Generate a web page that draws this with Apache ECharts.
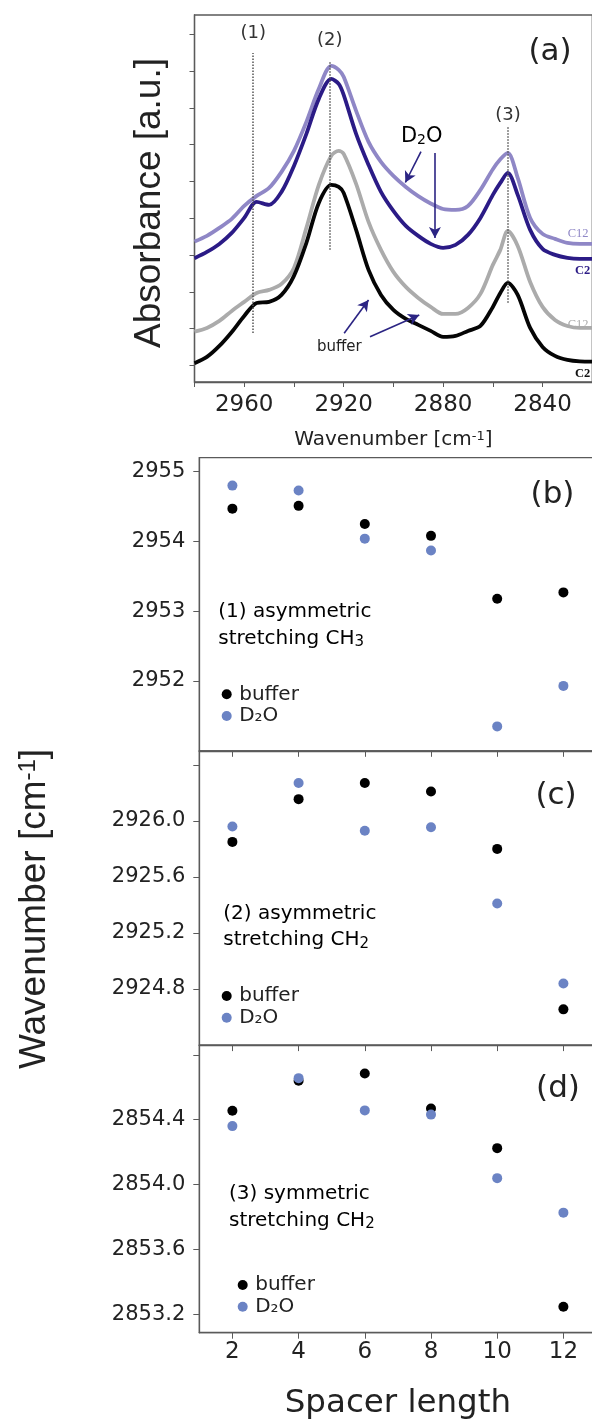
<!DOCTYPE html>
<html><head><meta charset="utf-8">
<script src="https://cdn.jsdelivr.net/npm/echarts@6/dist/echarts.min.js"></script>
<style>html,body{margin:0;padding:0;background:#fff}#c{width:592px;height:1423px}</style>
</head><body><div id="c"></div><script>
// ---------- panel (a): FTIR spectra ----------
const wavenumbers = [2980,2975,2970,2965,2960,2955,2950,2945,2940,2935,2930,2925,2922,2920,2915,2910,2905,2900,2895,2890,2885,2880,2875,2870,2865,2860,2857,2854,2850,2845,2840,2835,2830,2825,2820];
const absC12D2O   = [3.364,3.519,3.736,3.981,4.334,4.606,4.823,5.258,5.829,6.617,7.514,8.139,8.030,7.840,6.916,6.073,5.530,5.150,4.850,4.600,4.400,4.250,4.226,4.334,4.769,5.330,5.600,5.774,5.095,4.008,3.573,3.438,3.329,3.302,3.302];
const absC2D2O    = [2.913,3.084,3.302,3.601,4.008,4.443,4.361,4.715,5.421,6.291,7.242,7.785,7.649,7.351,6.291,5.448,4.715,4.198,3.791,3.519,3.302,3.193,3.274,3.546,4.008,4.633,4.959,5.231,4.633,3.682,3.166,3.003,2.921,2.894,2.894];
const absC12Buffer= [0.918,1.019,1.209,1.481,1.726,1.970,2.052,2.215,2.649,3.736,4.905,5.693,5.829,5.747,4.932,3.899,3.139,2.541,2.133,1.834,1.590,1.399,1.399,1.563,1.943,2.731,3.139,3.655,3.247,2.269,1.590,1.236,1.073,1.019,1.019];
const absC2Buffer = [0.060,0.231,0.530,0.910,1.345,1.698,1.726,1.916,2.432,3.329,4.416,4.905,4.850,4.688,3.682,2.595,1.916,1.508,1.264,1.101,0.938,0.774,0.802,0.938,1.073,1.590,1.970,2.242,1.916,1.019,0.503,0.258,0.149,0.109,0.103];
const specTicks = [2840,2860,2880,2900,2920,2940,2960,2980];
const specTickLabels = [2840,2880,2920,2960];
const absTicks = [0,1,2,3,4,5,6,7,8,9];
const peakLabels = ['(1)','(2)','(3)'];
const peakWavenumbers = [2956.4,2925.6,2853.9];
const peakLineBottom = [0.88,3.14,1.70];
const peakLineTop = [8.49,8.25,6.48];
const peakLabelGap = [11,12,3];
const arrowFromW = [2888.9,2883.3,2919.8,2909.4];
const arrowFromA = [5.81,5.77,0.875,0.78];
const arrowToW   = [2895.2,2883.3,2910.0,2889.6];
const arrowToA   = [4.97,3.46,1.78,1.37];

// ---------- panels (b)-(d): peak positions vs spacer length ----------
const spacerLength = [2,4,6,8,10,12];
const ch3AsymBuffer = [2954.47,2954.51,2954.25,2954.08,2953.18,2953.27];
const ch3AsymD2O    = [2954.80,2954.73,2954.04,2953.87,2951.35,2951.93];
const ch2AsymBuffer = [2925.85,2926.155,2926.27,2926.21,2925.80,2924.655];
const ch2AsymD2O    = [2925.96,2926.27,2925.93,2925.955,2925.41,2924.84];
const ch2SymBuffer  = [2854.455,2854.64,2854.685,2854.468,2854.224,2853.245];
const ch2SymD2O     = [2854.36,2854.656,2854.457,2854.431,2854.039,2853.826];
const bTickLabels = [2952,2953,2954,2955];
const bMinorTicks = [2951.5,2952.5,2953.5,2954.5];
const cTickLabels = [2924.8,2925.2,2925.6,2926.0];
const cMajorTicks = [2924.8,2925.2,2925.6,2926.0,2926.4];
const cMinorTicks = [2924.6,2925.0,2925.4,2925.8,2926.2];
const dTickLabels = [2853.2,2853.6,2854.0,2854.4];
const dMajorTicks = [2853.2,2853.6,2854.0,2854.4,2854.8];
const dMinorTicks = [2853.4,2853.8,2854.2,2854.6];

const H_FONT = '"DejaVu Sans", sans-serif';
const R_FONT = '"Liberation Sans", Arial, sans-serif';
const TEXT = '#222';
const FRAME = '#5a5a5a';
const BLACK = '#000000';
const BLUE = '#6b83c4';

const pairs = (xs, ys) => xs.map((x, i) => [x, ys[i]]);

const grids = [
  {left:194.5, top:15, width:397.8, height:367},
  {left:199.3, top:457.7, width:397.2, height:293.1},
  {left:199.3, top:750.8, width:397.2, height:294.3},
  {left:199.3, top:1045.1, width:397.2, height:287.6}
].map(g => Object.assign({show:true, borderColor:FRAME, borderWidth:1.3, backgroundColor:'transparent', containLabel:false, outerBoundsMode:'none'}, g));

const axLine = {show:true, onZero:false, lineStyle:{color:FRAME, width:1.3}};
const plain = v => String(Math.round(v));

const xAxes = [
  {gridIndex:0, type:'value', min:2820, max:2980, inverse:true, axisLine:axLine,
   axisTick:{show:true, customValues:specTicks, length:5, lineStyle:{color:FRAME}},
   axisLabel:{show:true, customValues:specTickLabels, margin:12, fontSize:23, fontFamily:H_FONT, color:TEXT, formatter:plain},
   splitLine:{show:false},
   name:'{n|Wavenumber [cm}{s|-1}{n|]}', nameLocation:'middle', nameGap:48, nameMoveOverlap:false,
   nameTextStyle:{rich:{n:{fontSize:20, fontFamily:H_FONT, color:TEXT}, s:{fontSize:13, fontFamily:H_FONT, color:TEXT, verticalAlign:'top'}}}}
];
for (let k = 1; k <= 3; k++) {
  const last = k === 3;
  xAxes.push({gridIndex:k, type:'value', min:1, max:13, axisLine:axLine,
    axisTick:{show:true, customValues:spacerLength, length:6, lineStyle:{color:FRAME}},
    axisLabel:{show:last, customValues:spacerLength, margin:8, fontSize:23, fontFamily:H_FONT, color:TEXT, formatter:plain},
    splitLine:{show:false},
    name: last ? 'Spacer length' : '', nameLocation:'middle', nameGap:54, nameMoveOverlap:false,
    nameTextStyle:{fontSize:32.5, fontFamily:H_FONT, color:TEXT}});
}

function majorY(k, min, max, ticks, labels, digits, extra) {
  return Object.assign({gridIndex:k, type:'value', min:min, max:max, axisLine:axLine,
    axisTick:{show:true, customValues:ticks, length:6, lineStyle:{color:FRAME}},
    axisLabel:{show:true, customValues:labels, margin:14, fontSize:21, fontFamily:H_FONT, color:TEXT,
      formatter: v => v.toFixed(digits)},
    splitLine:{show:false}}, extra || {});
}
function minorY(k, min, max, ticks) {
  return {gridIndex:k, type:'value', min:min, max:max, axisLine:{show:false, onZero:false},
    axisTick:{show:true, customValues:ticks, length:3.5, lineStyle:{color:FRAME}},
    axisLabel:{show:false}, splitLine:{show:false}};
}

const yAxes = [
  {gridIndex:0, type:'value', min:-0.45, max:9.52, axisLine:axLine,
   axisTick:{show:true, customValues:absTicks, length:5, lineStyle:{color:FRAME}},
   axisLabel:{show:false}, splitLine:{show:false},
   name:'Absorbance [a.u.]', nameLocation:'middle', nameGap:26, nameMoveOverlap:false,
   nameTextStyle:{fontSize:37, fontFamily:R_FONT, color:TEXT, padding:[0,9,0,0]}},
  majorY(1, 2951.0, 2955.2, bTickLabels, bTickLabels, 0),
  minorY(1, 2951.0, 2955.2, bMinorTicks),
  majorY(2, 2924.4, 2926.5, cMajorTicks, cTickLabels, 1, {
    name:'{n|Wavenumber [cm}{s|-1}{n|]}', nameLocation:'middle', nameGap:146, nameMoveOverlap:false,
    nameTextStyle:{padding:[0,22,0,0], rich:{n:{fontSize:37, fontFamily:R_FONT, color:TEXT}, s:{fontSize:24, fontFamily:R_FONT, color:TEXT, verticalAlign:'top'}}}}),
  minorY(2, 2924.4, 2926.5, cMinorTicks),
  majorY(3, 2853.085, 2854.86, dMajorTicks, dTickLabels, 1),
  minorY(3, 2853.085, 2854.86, dMinorTicks)
];

function spectrum(name, values, color, width, extra) {
  return Object.assign({type:'line', name:name, xAxisIndex:0, yAxisIndex:0, data:pairs(wavenumbers, values),
    showSymbol:false, smooth:0.3, lineStyle:{color:color, width:width}, itemStyle:{color:color}, silent:true}, extra || {});
}

const series = [
  spectrum('C12 D₂O', absC12D2O, '#8f87c6', 3.8),
  spectrum('C2 D₂O', absC2D2O, '#2b1b86', 3.8, {
    markLine:{silent:true, symbol:['none','arrow'], symbolSize:[9,11], animation:false,
      lineStyle:{type:'solid', color:'#2b2483', width:1.6}, label:{show:false},
      data: arrowFromW.map((w, i) => [{coord:[w, arrowFromA[i]]}, {coord:[arrowToW[i], arrowToA[i]]}])}}),
  spectrum('C12 buffer', absC12Buffer, '#ababab', 3.8),
  spectrum('C2 buffer', absC2Buffer, '#050505', 3.8, {
    markLine:{silent:true, symbol:['none','none'], animation:false,
      lineStyle:{type:'dotted', color:'#555', width:1.5},
      label:{show:true, position:'end', formatter:p => p.name, fontSize:18, fontFamily:H_FONT, color:'#333'},
      data: peakWavenumbers.map((w, i) => [
        {name:peakLabels[i], coord:[w, peakLineBottom[i]], label:{distance:peakLabelGap[i]}},
        {coord:[w, peakLineTop[i]], label:{distance:peakLabelGap[i]}}])}})
];

const panels = [
  [ch3AsymBuffer, ch3AsymD2O, 1, 1],
  [ch2AsymBuffer, ch2AsymD2O, 2, 3],
  [ch2SymBuffer, ch2SymD2O, 3, 5]
];
panels.forEach(([buf, d2o, xi, yi]) => {
  series.push({type:'scatter', name:'buffer', xAxisIndex:xi, yAxisIndex:yi, data:pairs(spacerLength, buf),
    symbol:'circle', symbolSize:10, itemStyle:{color:BLACK, opacity:1}, silent:true});
  series.push({type:'scatter', name:'D₂O', xAxisIndex:xi, yAxisIndex:yi, data:pairs(spacerLength, d2o),
    symbol:'circle', symbolSize:10, itemStyle:{color:BLUE, opacity:1}, silent:true});
});

function legendAt(left, top) {
  return {show:true, orient:'vertical', left:left, top:top, itemWidth:10, itemHeight:10, itemGap:1.7,
    selectedMode:false, data:['buffer','D₂O'], icon:'circle', padding:0, itemStyle:{opacity:1},
    textStyle:{fontSize:20, lineHeight:20, fontFamily:H_FONT, color:TEXT, padding:[0,0,0,2.5]}};
}

function txt(text, x, y, size, opts) {
  opts = opts || {};
  return {type:'text', silent:true, z:100, style:Object.assign({text:text, x:x, y:y,
    font:(opts.weight || 'normal') + ' ' + size + 'px ' + (opts.family || H_FONT),
    fill:opts.color || TEXT, textAlign:opts.align || 'center', textVerticalAlign:'middle'}, opts.style || {})};
}
function block(first, mol, sub, x, y) {
  return {type:'text', silent:true, z:100, style:{x:x, y:y, textAlign:'left', textVerticalAlign:'middle',
    text:'{n|' + first + '}\n{n|stretching ' + mol + '}{s|' + sub + '}',
    rich:{n:{fontSize:20, lineHeight:26.7, fontFamily:H_FONT, color:TEXT},
          s:{fontSize:15, lineHeight:26.7, fontFamily:H_FONT, color:TEXT, verticalAlign:'bottom', padding:[0,0,2,0]}}}};
}

const graphic = [
  txt('(a)', 550, 51.7, 31),
  txt('(b)', 552.5, 495, 31),
  txt('(c)', 556, 796, 31),
  txt('(d)', 558, 1089, 31),
  {type:'text', silent:true, z:100, style:{x:421.7, y:136.7, textAlign:'center', textVerticalAlign:'middle',
    text:'{n|D}{s|2}{n|O}', rich:{n:{fontSize:21, fontFamily:H_FONT, color:TEXT}, s:{fontSize:14, fontFamily:H_FONT, color:TEXT, verticalAlign:'bottom'}}}},
  txt('buffer', 339.3, 346.7, 15),
  txt('C12', 567.7, 233.3, 12.5, {align:'left', family:'"Liberation Serif", serif', color:'#8f87c6'}),
  txt('C2', 575, 270.7, 12.5, {align:'left', family:'"Liberation Serif", serif', color:'#2b1b86', weight:'bold'}),
  txt('C12', 567.7, 325, 12.5, {align:'left', family:'"Liberation Serif", serif', color:'#ababab'}),
  txt('C2', 575, 373.3, 12.5, {align:'left', family:'"Liberation Serif", serif', color:'#111', weight:'bold'}),
  block('(1) asymmetric', 'CH', '3', 218.3, 625),
  block('(2) asymmetric', 'CH', '2', 223.3, 926.7),
  block('(3) symmetric', 'CH', '2', 229, 1207)
];

const chart = echarts.init(document.getElementById('c'), null, {renderer:'canvas'});
chart.setOption({
  animation:false,
  backgroundColor:'#fff',
  textStyle:{fontFamily:H_FONT},
  grid:grids,
  xAxis:xAxes,
  yAxis:yAxes,
  legend:[legendAt(221.7, 684.3), legendAt(221.7, 986), legendAt(237.7, 1275)],
  series:series,
  graphic:graphic
});
</script></body></html>
